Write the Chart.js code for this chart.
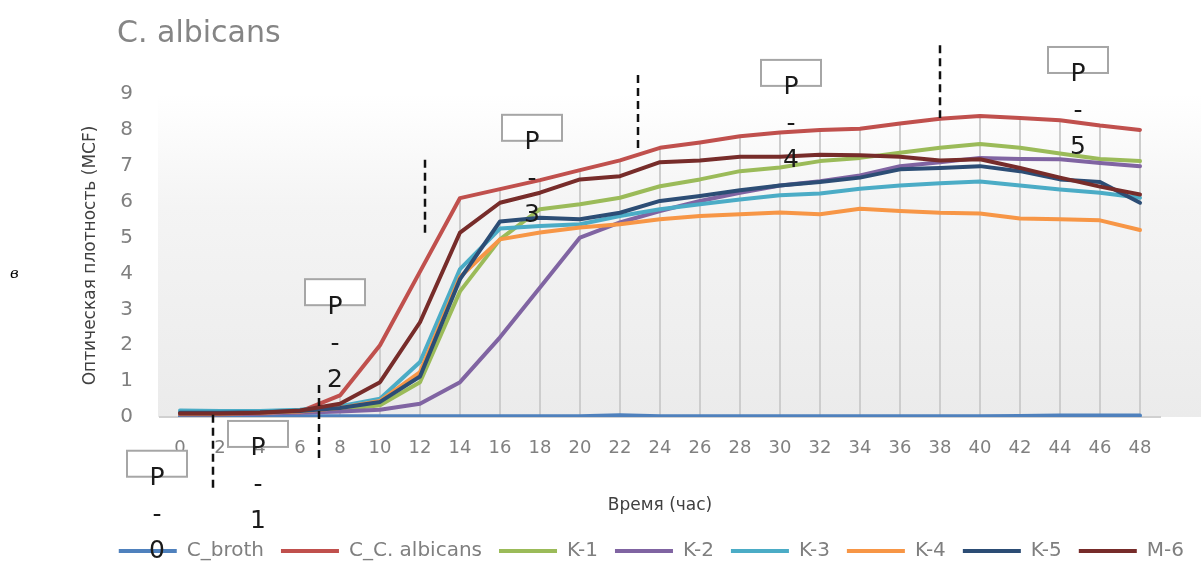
<!DOCTYPE html>
<html>
<head>
<meta charset="utf-8">
<script src="https://cdn.jsdelivr.net/npm/chart.js@4.4.1/dist/chart.umd.min.js"></script>
<style>
    html, body { margin: 0; padding: 0; background: #ffffff; }
    #wrap { width: 1201px; height: 567px; position: relative; }
</style>
</head>
<body>
<div id="wrap"><canvas id="growthChart"></canvas></div>
<script>
// time points (hours)
const hours = [0, 2, 4, 6, 8, 10, 12, 14, 16, 18, 20, 22, 24, 26, 28, 30, 32, 34, 36, 38, 40, 42, 44, 46, 48];

const seriesNames = ['C_broth', 'C_C. albicans', 'K-1', 'K-2', 'K-3', 'K-4', 'K-5', 'M-6'];

const cBroth = [0.02, 0.02, 0.02, 0.02, 0.02, 0.02, 0.02, 0.02, 0.02, 0.02, 0.02, 0.05, 0.02, 0.02, 0.02, 0.02, 0.02, 0.02, 0.02, 0.02, 0.02, 0.03, 0.04, 0.04, 0.04];
const cAlbicans = [0.08, 0.08, 0.1, 0.15, 0.6, 2.0, 4.05, 6.1, 6.35, 6.6, 6.88, 7.15, 7.5, 7.65, 7.82, 7.93, 8.0, 8.03, 8.18, 8.31, 8.39, 8.33, 8.27, 8.12, 8.0];
const k1 = [0.1, 0.1, 0.12, 0.15, 0.2, 0.33, 0.97, 3.5, 4.95, 5.79, 5.93, 6.11, 6.43, 6.62, 6.85, 6.95, 7.13, 7.22, 7.36, 7.5, 7.61, 7.5, 7.34, 7.19, 7.13];
const k2 = [0.1, 0.1, 0.1, 0.12, 0.15, 0.2, 0.37, 0.97, 2.22, 3.61, 5.0, 5.42, 5.74, 6.02, 6.25, 6.45, 6.57, 6.73, 6.99, 7.1, 7.22, 7.19, 7.18, 7.08, 6.99];
const k3 = [0.18, 0.17, 0.17, 0.2, 0.3, 0.51, 1.53, 4.12, 5.25, 5.32, 5.37, 5.6, 5.79, 5.93, 6.06, 6.18, 6.23, 6.36, 6.45, 6.51, 6.56, 6.45, 6.34, 6.25, 6.11];
const k4 = [0.1, 0.1, 0.12, 0.15, 0.25, 0.45, 1.25, 3.9, 4.95, 5.14, 5.28, 5.37, 5.51, 5.6, 5.65, 5.7, 5.65, 5.8, 5.74, 5.69, 5.67, 5.53, 5.51, 5.48, 5.21];
const k5 = [0.12, 0.12, 0.13, 0.17, 0.25, 0.42, 1.13, 3.84, 5.45, 5.55, 5.51, 5.69, 6.02, 6.16, 6.32, 6.45, 6.55, 6.67, 6.9, 6.94, 6.99, 6.85, 6.62, 6.55, 5.97];
const m6 = [0.1, 0.1, 0.12, 0.18, 0.37, 0.97, 2.64, 5.14, 5.97, 6.25, 6.62, 6.71, 7.1, 7.15, 7.25, 7.25, 7.31, 7.29, 7.25, 7.15, 7.18, 6.94, 6.67, 6.42, 6.2];

const yTicks = [0, 1, 2, 3, 4, 5, 6, 7, 8, 9];

// P-markers: hour + optical density of the "P" letter
const pMarkers = [
    { label: '0', hour: -1.15, value: -1.72 },
    { label: '1', hour: 3.9, value: -0.89 },
    { label: '2', hour: 7.75, value: 3.06 },
    { label: '3', hour: 17.6, value: 7.64 },
    { label: '4', hour: 30.55, value: 9.17 },
    { label: '5', hour: 44.9, value: 9.53 }
];
// dashed separators: hour, value from, value to
const dashMarks = [
    { hour: 1.65, from: 0.06, to: -2.03 },
    { hour: 6.95, from: 0.89, to: -1.17 },
    { hour: 12.25, from: 7.17, to: 5.03 },
    { hour: 22.9, from: 9.53, to: 7.44 },
    { hour: 38.0, from: 10.36, to: 8.33 }
];

const colors = ['#4F81BD', '#C0504D', '#9BBB59', '#8064A2', '#4BACC6', '#F79646', '#2C4D75', '#772C2A'];
const allSeries = [cBroth, cAlbicans, k1, k2, k3, k4, k5, m6];

Chart.defaults.font.family = '"DejaVu Sans", sans-serif';

const plotBackground = {
    id: 'plotBackground',
    beforeDraw(chart) {
        const { ctx, chartArea } = chart;
        const g = ctx.createLinearGradient(0, chartArea.top, 0, chartArea.bottom);
        g.addColorStop(0, '#ffffff');
        g.addColorStop(0.35, '#f4f4f4');
        g.addColorStop(1, '#ebebeb');
        ctx.save();
        ctx.fillStyle = g;
        ctx.fillRect(chartArea.left - 2, chartArea.top - 10, chart.width - chartArea.left + 2, chartArea.bottom - chartArea.top + 10);
        ctx.restore();
    }
};

// Excel-style drop lines from the highest point to the axis
const dropLines = {
    id: 'dropLines',
    beforeDatasetsDraw(chart) {
        const { ctx, scales: { x, y } } = chart;
        ctx.save();
        ctx.strokeStyle = '#cdcdcd';
        ctx.lineWidth = 2;
        hours.forEach((h, i) => {
            const top = Math.max(...allSeries.map(s => s[i]));
            const px = Math.round(x.getPixelForValue(i));
            ctx.beginPath();
            ctx.moveTo(px, y.getPixelForValue(top));
            ctx.lineTo(px, y.getPixelForValue(0));
            ctx.stroke();
        });
        ctx.restore();
    }
};

const annotations = {
    id: 'annotations',
    afterDraw(chart) {
        const { ctx, scales: { x, y } } = chart;
        ctx.save();

        // title
        ctx.fillStyle = '#858585';
        ctx.font = '30px "DejaVu Sans"';
        ctx.textBaseline = 'alphabetic';
        ctx.textAlign = 'left';
        ctx.fillText('C. albicans', 117, 42);

        ctx.fillStyle = '#000000';
        ctx.font = 'italic 15px "DejaVu Serif"';
        ctx.fillText('в', 10, 278);

        // dashed separators
        ctx.strokeStyle = '#111111';
        ctx.lineWidth = 2.5;
        ctx.setLineDash([8, 5]);
        dashMarks.forEach(d => {
            const px = x.getPixelForValue(d.hour / 2);
            ctx.beginPath();
            ctx.moveTo(px, y.getPixelForValue(d.from));
            ctx.lineTo(px, y.getPixelForValue(d.to));
            ctx.stroke();
        });
        ctx.setLineDash([]);

        // P boxes
        pMarkers.forEach(p => {
            const cx = x.getPixelForValue(p.hour / 2);
            const cy = y.getPixelForValue(p.value);
            ctx.fillStyle = '#ffffff';
            ctx.fillRect(cx - 30, cy - 28, 60, 26);
            ctx.strokeStyle = '#a6a6a6';
            ctx.lineWidth = 2;
            ctx.strokeRect(cx - 30, cy - 28, 60, 26);
            ctx.fillStyle = '#1a1a1a';
            ctx.font = '25px "DejaVu Sans"';
            ctx.textAlign = 'center';
            ctx.textBaseline = 'middle';
            ctx.fillText('P', cx, cy);
            ctx.fillText('-', cx, cy + 37);
            ctx.fillText(p.label, cx, cy + 73);
        });
        ctx.restore();
    }
};

const ctx = document.getElementById('growthChart').getContext('2d');

new Chart(ctx, {
    type: 'line',
    data: {
        labels: hours,
        datasets: allSeries.map((s, i) => ({
            label: seriesNames[i],
            data: s,
            borderColor: colors[i],
            backgroundColor: colors[i],
            borderWidth: 4,
            pointRadius: 0,
            tension: 0,
            borderJoinStyle: 'round',
            borderCapStyle: 'round',
            order: allSeries.length - i
        }))
    },
    options: {
        responsive: true,
        maintainAspectRatio: false,
        animation: false,
        layout: { padding: { top: 94, left: 0, right: 0, bottom: -4 } },
        plugins: {
            title: { display: false },
            tooltip: { enabled: false },
            legend: {
                position: 'bottom',
                align: 'end',
                labels: {
                    color: '#7f7f7f',
                    font: { size: 20 },
                    boxWidth: 58,
                    boxHeight: 4,
                    padding: 17,
                    sort: (a, b) => a.datasetIndex - b.datasetIndex,
                    generateLabels: (chart) => Chart.defaults.plugins.legend.labels.generateLabels(chart)
                        .map(l => ({ ...l, lineWidth: 0, fillStyle: l.strokeStyle }))
                }
            }
        },
        scales: {
            x: {
                offset: true,
                grid: { display: false, drawTicks: false },
                border: { display: true, color: '#d0d0d0', width: 2 },
                ticks: {
                    color: '#808080',
                    font: { size: 18 },
                    padding: 21,
                    autoSkip: false,
                    maxRotation: 0
                },
                title: {
                    display: true,
                    text: 'Время (час)',
                    color: '#404040',
                    font: { size: 17 },
                    padding: { top: 15, bottom: 8 }
                }
            },
            y: {
                min: 0,
                max: 9,
                grid: { display: false, drawTicks: false },
                border: { display: false },
                afterBuildTicks: (scale) => { scale.ticks = yTicks.map(v => ({ value: v })); },
                ticks: {
                    color: '#808080',
                    font: { size: 20 },
                    padding: 27
                },
                title: {
                    display: true,
                    text: 'Оптическая плотность (MCF)',
                    color: '#404040',
                    font: { size: 17 },
                    padding: { top: 80, bottom: 0 }
                },
                afterFit: (scale) => { scale.width = 160; }
            },
            yRight: {
                position: 'right',
                grid: { display: false, drawTicks: false },
                border: { display: false },
                ticks: { display: false },
                afterFit: (scale) => { scale.width = 41; }
            }
        }
    },
    plugins: [plotBackground, dropLines, annotations]
});
</script>
</body>
</html>
